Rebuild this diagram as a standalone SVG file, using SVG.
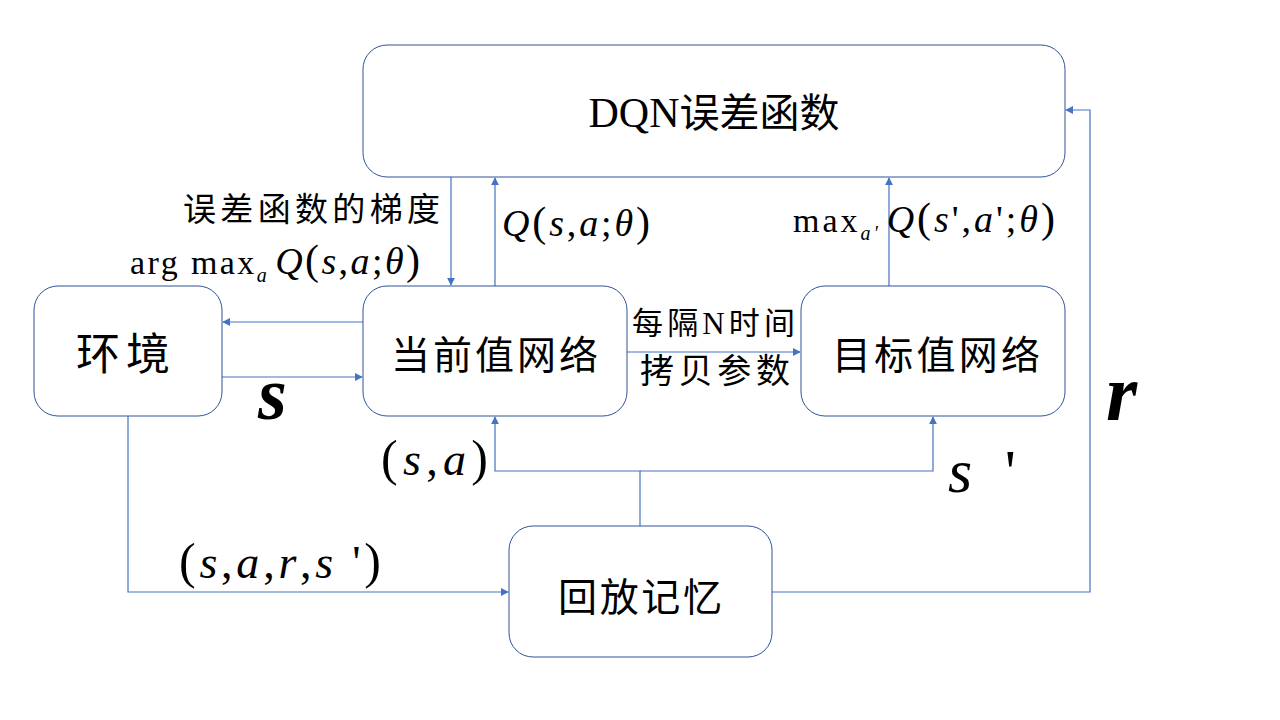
<svg xmlns="http://www.w3.org/2000/svg" width="1280" height="720" viewBox="0 0 1280 720">
<style>
.box{fill:#fff;stroke:#2F5597;stroke-width:1}
.cn{font-family:"Noto Sans CJK SC","Noto Sans",sans-serif;fill:#000}
.m{font-family:"Liberation Serif",serif;fill:#000}
.i{font-style:italic}
.ln{fill:none;stroke:#4472C4;stroke-width:1.2}
</style>
<defs>
<marker id="ah" viewBox="0 0 10 10" refX="9" refY="5" markerWidth="8" markerHeight="8" markerUnits="userSpaceOnUse" orient="auto">
<path d="M0,0 L10,5 L0,10 z" fill="#4472C4"/>
</marker>
</defs>
<rect width="1280" height="720" fill="#fff"/>
<g id="connectors">
<path class="ln" d="M451,177 V285" marker-end="url(#ah)"/>
<path class="ln" d="M495,286 V178" marker-end="url(#ah)"/>
<path class="ln" d="M889,286 V178" marker-end="url(#ah)"/>
<path class="ln" d="M363,322 H223" marker-end="url(#ah)"/>
<path class="ln" d="M222,377 H362" marker-end="url(#ah)"/>
<path class="ln" d="M627,352 H800" marker-end="url(#ah)"/>
<path class="ln" d="M128,416 V592 H508" marker-end="url(#ah)"/>
<path class="ln" d="M640,526 V471 H495 V417" marker-end="url(#ah)"/>
<path class="ln" d="M640,471 H933 V417" marker-end="url(#ah)"/>
<path class="ln" d="M772,592 H1090 V110 H1066" marker-end="url(#ah)"/>
</g>
<g id="dqn">
<rect class="box" x="363" y="45" width="702" height="132" rx="24"/>
<text class="cn" x="714" y="127" font-size="40" text-anchor="middle"><tspan font-family="Liberation Serif" font-size="42">DQN</tspan>误差函数</text>
</g>
<g id="env">
<rect class="box" x="34" y="286" width="188" height="130" rx="24"/>
<text class="cn" x="76" y="370" font-size="44" textLength="94" lengthAdjust="spacing">环境</text>
</g>
<g id="cur">
<rect class="box" x="363" y="286" width="264" height="130" rx="24"/>
<text class="cn" x="391" y="369" font-size="39" textLength="207" lengthAdjust="spacing">当前值网络</text>
</g>
<g id="tgt">
<rect class="box" x="801" y="286" width="264" height="130" rx="24"/>
<text class="cn" x="832" y="369" font-size="39" textLength="208" lengthAdjust="spacing">目标值网络</text>
</g>
<g id="mem">
<rect class="box" x="509" y="526" width="263" height="131" rx="24"/>
<text class="cn" x="558" y="611" font-size="39" textLength="164" lengthAdjust="spacing">回放记忆</text>
</g>
<g id="labels">
<text class="cn" x="183" y="221" font-size="33" textLength="257" lengthAdjust="spacing">误差函数的梯度</text>
<text class="m" x="130" y="274" font-size="34" textLength="290" lengthAdjust="spacing">arg max<tspan class="i" font-size="20" dy="8">a</tspan><tspan class="i" font-size="38" dy="-8" dx="6">Q</tspan><tspan font-size="42">(</tspan><tspan class="i" font-size="38">s</tspan><tspan font-size="38">,</tspan><tspan class="i" font-size="38">a</tspan><tspan font-size="38">;</tspan><tspan class="i" font-size="38">θ</tspan><tspan font-size="42">)</tspan></text>
<text class="m" x="502" y="236" font-size="38" textLength="148" lengthAdjust="spacing"><tspan class="i">Q</tspan><tspan font-size="42">(</tspan><tspan class="i">s</tspan>,<tspan class="i">a</tspan>;<tspan class="i">θ</tspan><tspan font-size="42">)</tspan></text>
<text class="m" x="793" y="232" font-size="34" textLength="262" lengthAdjust="spacing">max<tspan class="i" font-size="20" dy="8">a'</tspan><tspan class="i" font-size="38" dy="-8" dx="6">Q</tspan><tspan font-size="42">(</tspan><tspan class="i" font-size="38">s</tspan><tspan font-size="38">',</tspan><tspan class="i" font-size="38">a</tspan><tspan font-size="38">';</tspan><tspan class="i" font-size="38">θ</tspan><tspan font-size="42">)</tspan></text>
<text class="cn" x="632" y="334" font-size="31" textLength="163" lengthAdjust="spacing">每隔<tspan font-family="Liberation Serif">N</tspan>时间</text>
<text class="cn" x="640" y="383" font-size="34" textLength="150" lengthAdjust="spacing">拷贝参数</text>
<text class="m i" x="258" y="419" font-size="74" font-weight="bold">s</text>
<text class="m i" x="1106" y="420" font-size="80" font-weight="bold">r</text>
<text class="m" x="948" y="492" font-size="62" textLength="68" lengthAdjust="spacing"><tspan class="i">s</tspan> '</text>
<text class="m" x="381" y="475" font-size="46" textLength="107" lengthAdjust="spacing"><tspan font-size="50">(</tspan><tspan class="i">s</tspan>,<tspan class="i">a</tspan><tspan font-size="50">)</tspan></text>
<text class="m" x="179" y="578" font-size="46" textLength="202" lengthAdjust="spacing"><tspan font-size="50">(</tspan><tspan class="i">s</tspan>,<tspan class="i">a</tspan>,<tspan class="i">r</tspan>,<tspan class="i">s</tspan> '<tspan font-size="50">)</tspan></text>
</g>
</svg>
